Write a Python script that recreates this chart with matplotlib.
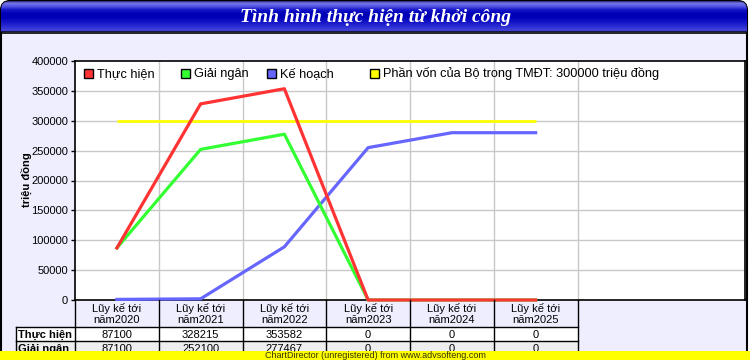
import numpy as np
import matplotlib
matplotlib.use("Agg")
import matplotlib.pyplot as plt
from matplotlib.patches import Rectangle, FancyBboxPatch

plt.rcParams['font.family'] = ['Liberation Sans', 'DejaVu Sans']

# ---------------- data ----------------
categories = ["Lũy kế tới\nnăm2020", "Lũy kế tới\nnăm2021", "Lũy kế tới\nnăm2022",
              "Lũy kế tới\nnăm2023", "Lũy kế tới\nnăm2024", "Lũy kế tới\nnăm2025"]
thuc_hien = [87100, 328215, 353582, 0, 0, 0]
giai_ngan = [87100, 252100, 277467, 0, 0, 0]
ke_hoach = [1000, 2000, 89000, 255000, 280000, 280000]
phan_von = [300000, 300000, 300000, 300000, 300000, 300000]
series_names = ["Thực hiện", "Giải ngân", "Kế hoạch",
                "Phần vốn của Bộ trong TMĐT: 300000 triệu đồng"]
title = "Tình hình thực hiện từ khởi công"
y_label = "triệu đồng"
y_ticks = [0, 50000, 100000, 150000, 200000, 250000, 300000, 350000, 400000]
footer = "ChartDirector (unregistered) from www.advsofteng.com"

colors = ["#FF3333", "#33FF33", "#6666FF", "#FFFF00"]

W, H = 750, 360
fig = plt.figure(figsize=(W / 100, H / 100), dpi=100)
fig.patch.set_facecolor("white")

def fx(px):
    return px / W

def fy(py):
    return 1 - py / H

# background axes (pixel coordinates)
bg = fig.add_axes([0, 0, 1, 1], zorder=0)
bg.set_xlim(0, W); bg.set_ylim(H, 0); bg.axis("off")
bg.add_patch(FancyBboxPatch((1, 1), 746, 380, boxstyle="round,pad=0,rounding_size=9",
                            facecolor="#EEEEFF", edgecolor="black", linewidth=1.5))

# main plot
L, R, T, B = 75, 745, 61, 300
ax = fig.add_axes([fx(L), fy(B), (R - L) / W, (B - T) / H], zorder=1)
ax.set_facecolor("white")
x = np.arange(len(categories))
ax.plot(x, phan_von, color=colors[3], lw=2.0, solid_capstyle="butt", zorder=3, clip_on=False)
ax.plot(x, ke_hoach, color=colors[2], lw=2.3, zorder=4, clip_on=False)
ax.plot(x, giai_ngan, color=colors[1], lw=2.3, zorder=5, clip_on=False)
ax.plot(x, thuc_hien, color=colors[0], lw=2.3, zorder=6, clip_on=False)
ax.set_xlim(-0.5, 7.5)
ax.set_ylim(0, 400000)
ax.set_yticks(y_ticks)
ax.set_yticklabels([str(v) for v in y_ticks], fontsize=8)
ax.set_xticks([])
for v in y_ticks[1:-1]:
    ax.axhline(v, color="#C8C8C8", lw=1, zorder=1)
for i in range(len(categories)):
    ax.axvline(i + 0.5, color="#C8C8C8", lw=1, zorder=1)
ax.tick_params(axis="y", direction="out", length=3, width=1, pad=2, colors="black")
for s in ax.spines.values():
    s.set_linewidth(1.2)
    s.set_color("black")
    s.set_zorder(2)

# overlay axes (pixel coordinates)
ov = fig.add_axes([0, 0, 1, 1], zorder=2)
ov.patch.set_alpha(0)

# title bar gradient
stops_y = [0, 2, 5, 9, 13, 17, 24, 31, 32]
r_ = [40, 120, 90, 20, 0, 0, 30, 70, 0]
g_ = [40, 120, 90, 20, 0, 0, 30, 70, 0]
b_ = [120, 235, 230, 200, 180, 185, 205, 220, 0]
yy = np.linspace(0, 32, 64)
grad = np.stack([np.interp(yy, stops_y, r_), np.interp(yy, stops_y, g_),
                 np.interp(yy, stops_y, b_)], axis=1) / 255.0
img = np.repeat(grad[:, None, :], 10, axis=1)
clip = FancyBboxPatch((1, 1), 746, 60, boxstyle="round,pad=0,rounding_size=9",
                      facecolor="none", edgecolor="none", transform=ov.transData)
im = ov.imshow(img, extent=(1, 747, 32, 1), aspect="auto", interpolation="bilinear", zorder=1)
ov.add_patch(clip)
im.set_clip_path(clip)
ov.plot([1, 747], [32.5, 32.5], color="black", lw=1.2, zorder=2)
ov.text(375, 17, title, color="white", fontsize=14, fontweight="bold", fontstyle="italic",
        family=["Liberation Serif", "DejaVu Serif"], ha="center", va="center", zorder=3)

# y-axis label
ov.text(26, 180, y_label, rotation=90, fontsize=8, fontweight="bold", ha="center", va="center")

# legend
leg_x = [84, 181, 267, 370]
for lx, c, name in zip(leg_x, colors, series_names):
    ov.add_patch(Rectangle((lx, 69), 9, 9, facecolor=c, edgecolor="black", lw=1, zorder=5))
    ov.text(lx + 13, 74, name, fontsize=9.2, ha="left", va="center", zorder=5)

# data table
cell_w = (R - L) / 8
edges = [L + cell_w * i for i in range(len(categories) + 1)]
row_top, row1, row2, row3 = 300, 327, 341, 355
ov.add_patch(Rectangle((16, row1), edges[-1] - 16, row2 - row1, facecolor="white", edgecolor="none", zorder=3))
ov.add_patch(Rectangle((16, row2), edges[-1] - 16, row3 - row2, facecolor="#EEEEEE", edgecolor="none", zorder=3))
for e in edges:
    ov.plot([e, e], [row_top, row3], color="black", lw=1, zorder=4)
ov.plot([16, 16], [row1, row3], color="black", lw=1, zorder=4)
for yline in (row1, row2, row3):
    ov.plot([16, edges[-1]], [yline, yline], color="black", lw=1, zorder=4)
for i, cat in enumerate(categories):
    cx = (edges[i] + edges[i + 1]) / 2
    ov.text(cx, 314, cat, fontsize=8, ha="center", va="center", linespacing=1.15, zorder=5)
    ov.text(cx, (row1 + row2) / 2 + 0.5, str(thuc_hien[i]), fontsize=8, ha="center", va="center", zorder=5)
    ov.text(cx, (row2 + row3) / 2 + 0.5, str(giai_ngan[i]), fontsize=8, ha="center", va="center", zorder=5)
ov.text(18, (row1 + row2) / 2 + 0.5, series_names[0], fontsize=8, fontweight="bold", ha="left", va="center", zorder=5)
ov.text(18, (row2 + row3) / 2 + 0.5, series_names[1], fontsize=8, fontweight="bold", ha="left", va="center", zorder=5)

# footer bar
ov.add_patch(Rectangle((0, 351), W, 9, facecolor="#FFFF00", edgecolor="none", zorder=8))
ov.text(375, 356, footer, fontsize=6.5, color="#333300", ha="center", va="center", zorder=9)

ov.set_xlim(0, W); ov.set_ylim(H, 0); ov.axis("off")

fig.savefig("out.png", dpi=100)
